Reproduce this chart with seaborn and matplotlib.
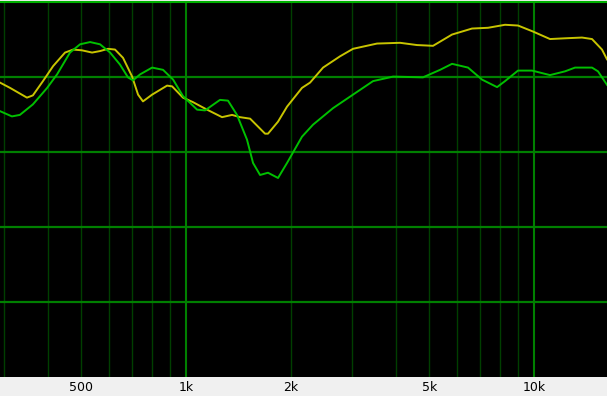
import numpy as np
import pandas as pd
import matplotlib
matplotlib.use("Agg")
import matplotlib.pyplot as plt
import seaborn as sns

# ---- data ----
yellow_freq = [292, 312, 349, 363, 388, 415, 449, 474, 502, 537, 566, 597, 625, 659, 700,
               728, 752, 799, 882, 912, 980, 1047, 1149, 1269, 1356, 1429, 1528, 1687,
               1720, 1838, 1951, 2154, 2272, 2476, 2770, 3019, 3539, 4121, 4611, 5127,
               5813, 6635, 7376, 8255, 8995, 9934, 11117, 12277, 13738, 14678, 15680, 16208]
yellow_db = [89.2, 88.5, 87.2, 87.5, 89.4, 91.4, 93.2, 93.6, 93.5, 93.2, 93.4, 93.7, 93.6,
             92.5, 90.0, 87.6, 86.7, 87.6, 88.8, 88.7, 87.2, 86.6, 85.6, 84.6, 84.9, 84.6,
             84.4, 82.4, 82.4, 84.0, 86.0, 88.5, 89.2, 91.2, 92.7, 93.7, 94.4, 94.5, 94.2,
             94.1, 95.6, 96.4, 96.5, 96.9, 96.8, 96.0, 95.0, 95.1, 95.2, 95.0, 93.6, 92.3]

green_freq = [292, 316, 333, 363, 399, 426, 464, 496, 530, 566, 605, 646, 681, 704, 738,
              799, 859, 918, 980, 1076, 1134, 1252, 1320, 1401, 1497, 1558, 1632, 1720,
              1838, 1951, 2154, 2317, 2645, 3019, 3447, 3934, 4797, 5370, 5813, 6462,
              7089, 7831, 8255, 8995, 9870, 11117, 12277, 13117, 14678, 15272, 16208]
green_db = [85.4, 84.7, 84.9, 86.3, 88.5, 90.3, 93.2, 94.3, 94.6, 94.3, 93.2, 91.6, 89.9,
            89.5, 90.3, 91.2, 90.9, 89.6, 87.4, 85.6, 85.5, 86.9, 86.8, 84.9, 81.6, 78.5,
            76.9, 77.2, 76.5, 78.5, 82.0, 83.6, 85.8, 87.6, 89.4, 90.0, 89.9, 90.9, 91.7,
            91.2, 89.6, 88.6, 89.4, 90.8, 90.8, 90.2, 90.7, 91.2, 91.2, 90.7, 88.9]

tick_freqs = [500, 1000, 2000, 5000, 10000]
tick_labels = ["500", "1k", "2k", "5k", "10k"]
minor_grid = [300, 400, 500, 600, 700, 800, 900, 2000, 3000, 4000, 5000, 6000, 7000, 8000, 9000]
major_grid = [1000, 10000]
level_grid = [60, 70, 80, 90]

# ---- figure ----
fig = plt.figure(figsize=(6.07, 3.96), dpi=100, facecolor="#f0f0f0")
ax = fig.add_axes([0, 19 / 396, 1, 375.5 / 396])
ax.set_facecolor("black")

for f in minor_grid:
    ax.axvline(f, color="#003f00", lw=1.0, zorder=1)
for f in major_grid:
    ax.axvline(f, color="#008000", lw=1.5, zorder=1)
for v in level_grid:
    ax.axhline(v, color="#007f00", lw=1.6, zorder=1)

dy = pd.DataFrame({"freq": yellow_freq, "db": yellow_db})
dg = pd.DataFrame({"freq": green_freq, "db": green_db})
sns.lineplot(data=dy, x="freq", y="db", ax=ax, color="#c8c400", lw=1.4, zorder=3)
sns.lineplot(data=dg, x="freq", y="db", ax=ax, color="#00c000", lw=1.4, zorder=4)

ax.set_xscale("log")
ax.set_xlim(292, 16208)
ax.set_ylim(50, 100)
ax.minorticks_off()
ax.set_xticks(tick_freqs)
ax.set_xticklabels(tick_labels)
ax.set_yticks([])
ax.tick_params(axis="x", length=0, pad=3, labelsize=9, colors="#000000")
ax.set_xlabel("")
ax.set_ylabel("")

for side in ["left", "right", "bottom"]:
    ax.spines[side].set_visible(False)
ax.spines["top"].set_color("#00b000")
ax.spines["top"].set_linewidth(1.5)

fig.savefig("out.png", dpi=100, facecolor=fig.get_facecolor())
